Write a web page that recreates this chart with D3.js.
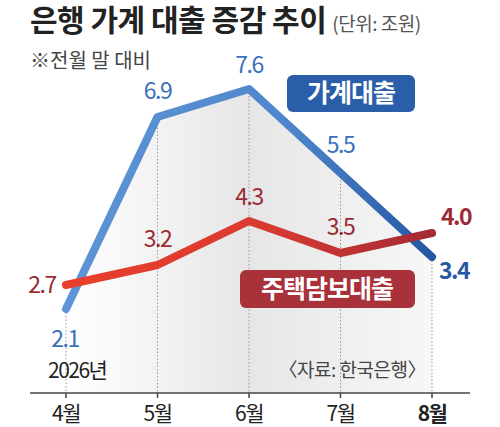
<!DOCTYPE html>
<html><head><meta charset="utf-8">
<script src="https://cdn.jsdelivr.net/npm/d3@7"></script>
<style>body{margin:0;background:#fff}text{font-family:"Noto Sans CJK KR","Noto Sans",sans-serif}</style>
</head><body><svg id="c" width="500" height="427"></svg>
<script>
const months = ['4월', '5월', '6월', '7월', '8월'];
const household = [2.1, 6.9, 7.6, 5.5, 3.4];
const mortgage = [2.7, 3.2, 4.3, 3.5, 4.0];

const svg = d3.select('#c');
const x = d3.scalePoint().domain(months).range([66, 432]);
const y = d3.scaleLinear().domain([0, 7.6]).range([393, 89]);

const defs = svg.append('defs');
const ga = defs.append('linearGradient').attr('id', 'area').attr('x1', 0).attr('x2', 1);
ga.append('stop').attr('offset', '0%').attr('stop-color', '#fff');
ga.append('stop').attr('offset', '50%').attr('stop-color', '#e6e6e6');
ga.append('stop').attr('offset', '100%').attr('stop-color', '#f7f7f7');
const gb = defs.append('linearGradient').attr('id', 'blue').attr('gradientUnits', 'userSpaceOnUse')
  .attr('x1', 66).attr('x2', 432).attr('y1', 0).attr('y2', 0);
gb.append('stop').attr('offset', '0%').attr('stop-color', '#5f95d6');
gb.append('stop').attr('offset', '60%').attr('stop-color', '#4f86cc');
gb.append('stop').attr('offset', '100%').attr('stop-color', '#2557a3');
const gr = defs.append('linearGradient').attr('id', 'red').attr('gradientUnits', 'userSpaceOnUse')
  .attr('x1', 66).attr('x2', 432).attr('y1', 0).attr('y2', 0);
gr.append('stop').attr('offset', '0%').attr('stop-color', '#ea3f2c');
gr.append('stop').attr('offset', '55%').attr('stop-color', '#d93a30');
gr.append('stop').attr('offset', '100%').attr('stop-color', '#a32a36');

const idx = months.map((m, i) => i);
svg.append('path').datum(idx)
  .attr('d', d3.area().x(i => x(months[i])).y0(y(0)).y1(i => y(household[i])))
  .attr('fill', 'url(#area)');

svg.selectAll('line.grid').data(idx).join('line').attr('class', 'grid')
  .attr('x1', i => x(months[i])).attr('x2', i => x(months[i]))
  .attr('y1', i => y(household[i])).attr('y2', y(0))
  .attr('stroke', '#999').attr('stroke-width', 1).attr('stroke-dasharray', '1.5,2');

svg.append('line').attr('x1', 30).attr('x2', 470).attr('y1', y(0)).attr('y2', y(0))
  .attr('stroke', '#444').attr('stroke-width', 1.5);
svg.selectAll('line.tick').data(months).join('line').attr('class', 'tick')
  .attr('x1', d => x(d)).attr('x2', d => x(d)).attr('y1', y(0)).attr('y2', y(0) + 5)
  .attr('stroke', '#444').attr('stroke-width', 1.5);
svg.selectAll('text.month').data(months).join('text').attr('class', 'month')
  .attr('x', d => x(d)).attr('y', 421).attr('text-anchor', 'middle')
  .attr('font-size', 21).attr('fill', '#222').attr('font-weight', (d, i) => i === 4 ? 700 : 400)
  .attr('letter-spacing', -1.5).text(d => d);

const line = vals => d3.line().x((d, i) => x(months[i])).y(d => y(d))(vals);
svg.append('path').attr('d', line(household)).attr('fill', 'none')
  .attr('stroke', 'url(#blue)').attr('stroke-width', 8).attr('stroke-linecap', 'round').attr('stroke-linejoin', 'round');
svg.append('path').attr('d', line(mortgage)).attr('fill', 'none')
  .attr('stroke', 'url(#red)').attr('stroke-width', 8).attr('stroke-linecap', 'round').attr('stroke-linejoin', 'round');

const blueOff = [[-1, 38], [0, -18], [0, -16], [0, -20], [22, 22]];
svg.selectAll('text.bl').data(household).join('text').attr('class', 'bl')
  .attr('x', (d, i) => x(months[i]) + blueOff[i][0]).attr('y', (d, i) => y(d) + blueOff[i][1])
  .attr('text-anchor', 'middle').attr('font-size', 23).attr('letter-spacing', -1.5)
  .attr('fill', (d, i) => i === 4 ? '#2557a3' : '#3b6fbb').attr('font-weight', (d, i) => i === 4 ? 700 : 400)
  .text(d => d.toFixed(1));

const redOff = [[-24, 8], [0, -18], [0, -16], [0, -18], [24, -8]];
svg.selectAll('text.rl').data(mortgage).join('text').attr('class', 'rl')
  .attr('x', (d, i) => x(months[i]) + redOff[i][0]).attr('y', (d, i) => y(d) + redOff[i][1])
  .attr('text-anchor', 'middle').attr('font-size', 23).attr('letter-spacing', -1.5)
  .attr('fill', '#9b2b35').attr('font-weight', (d, i) => i === 4 ? 700 : 400)
  .text(d => d.toFixed(1));

svg.append('rect').attr('x', 287).attr('y', 75).attr('width', 128).attr('height', 37).attr('rx', 6).attr('fill', '#2a5ea8');
svg.append('text').attr('x', 351).attr('y', 102).attr('text-anchor', 'middle').attr('font-size', 25)
  .attr('font-weight', 700).attr('fill', '#fff').attr('letter-spacing', -1).text('가계대출');
svg.append('rect').attr('x', 240).attr('y', 270).attr('width', 175).attr('height', 38).attr('rx', 6).attr('fill', '#a8313a');
svg.append('text').attr('x', 327).attr('y', 298).attr('text-anchor', 'middle').attr('font-size', 25)
  .attr('font-weight', 700).attr('fill', '#fff').attr('letter-spacing', -1).text('주택담보대출');

const t = svg.append('text').attr('x', 30).attr('y', 31).attr('fill', '#222');
t.append('tspan').attr('font-size', 30).attr('font-weight', 700).attr('letter-spacing', -0.5).text('은행 가계 대출 증감 추이');
t.append('tspan').attr('font-size', 19).attr('fill', '#555').attr('dx', 6).attr('letter-spacing', -0.5).text('(단위: 조원)');
svg.append('text').attr('x', 30).attr('y', 68).attr('font-size', 20).attr('fill', '#444').text('※전월 말 대비');
svg.append('text').attr('x', 48).attr('y', 378).attr('font-size', 21).attr('fill', '#222').attr('letter-spacing', -1.5).text('2026년');
svg.append('text').attr('x', 426).attr('y', 377).attr('text-anchor', 'end').attr('font-size', 19).attr('fill', '#444').attr('letter-spacing', -0.5).text('〈자료: 한국은행〉');
</script></body></html>
